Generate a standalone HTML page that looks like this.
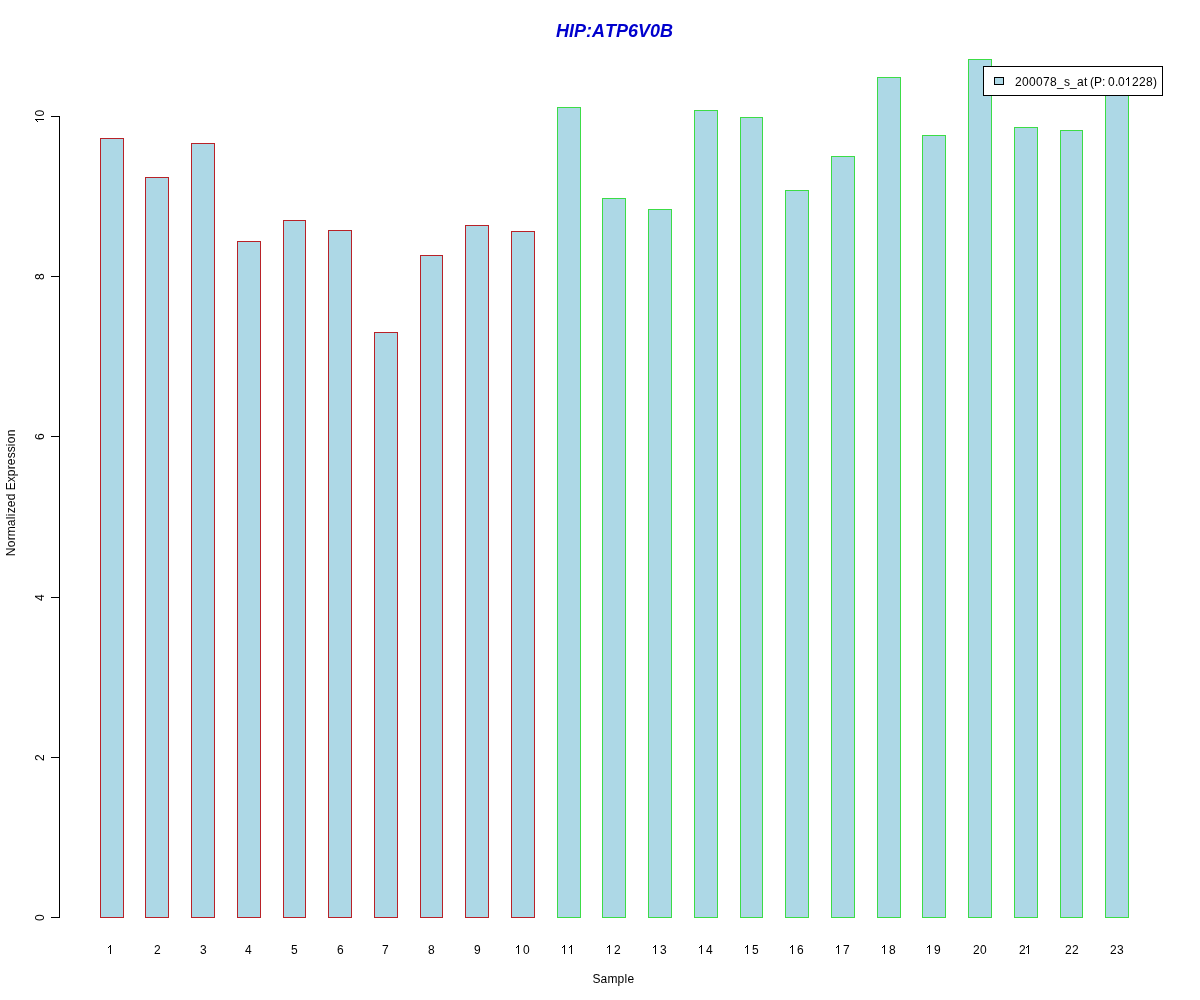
<!DOCTYPE html>
<html><head><meta charset="utf-8"><title>HIP:ATP6V0B</title>
<style>
html,body{margin:0;padding:0;background:#fff;width:1200px;height:1000px;overflow:hidden}
svg{display:block;will-change:transform}
text{font-family:"Liberation Sans",sans-serif;font-size:12px;fill:#000;font-kerning:none}
text.t{font-weight:bold;font-style:italic;font-size:18px;fill:#0000cd}
tspan.h{fill:transparent}
rect,path{shape-rendering:crispEdges}
</style></head><body>
<svg width="1200" height="1000" viewBox="0 0 1200 1000">
<rect x="0" y="0" width="1200" height="1000" fill="#fff"/>
<rect x="100.5" y="138.5" width="23" height="779" fill="#add8e6" stroke="#b82228"/>
<rect x="145.5" y="177.5" width="23" height="740" fill="#add8e6" stroke="#b82228"/>
<rect x="191.5" y="143.5" width="23" height="774" fill="#add8e6" stroke="#b82228"/>
<rect x="237.5" y="241.5" width="23" height="676" fill="#add8e6" stroke="#b82228"/>
<rect x="283.5" y="220.5" width="22" height="697" fill="#add8e6" stroke="#b82228"/>
<rect x="328.5" y="230.5" width="23" height="687" fill="#add8e6" stroke="#b82228"/>
<rect x="374.5" y="332.5" width="23" height="585" fill="#add8e6" stroke="#b82228"/>
<rect x="420.5" y="255.5" width="22" height="662" fill="#add8e6" stroke="#b82228"/>
<rect x="465.5" y="225.5" width="23" height="692" fill="#add8e6" stroke="#b82228"/>
<rect x="511.5" y="231.5" width="23" height="686" fill="#add8e6" stroke="#b82228"/>
<rect x="557.5" y="107.5" width="23" height="810" fill="#add8e6" stroke="#3cdc46"/>
<rect x="602.5" y="198.5" width="23" height="719" fill="#add8e6" stroke="#3cdc46"/>
<rect x="648.5" y="209.5" width="23" height="708" fill="#add8e6" stroke="#3cdc46"/>
<rect x="694.5" y="110.5" width="23" height="807" fill="#add8e6" stroke="#3cdc46"/>
<rect x="740.5" y="117.5" width="22" height="800" fill="#add8e6" stroke="#3cdc46"/>
<rect x="785.5" y="190.5" width="23" height="727" fill="#add8e6" stroke="#3cdc46"/>
<rect x="831.5" y="156.5" width="23" height="761" fill="#add8e6" stroke="#3cdc46"/>
<rect x="877.5" y="77.5" width="23" height="840" fill="#add8e6" stroke="#3cdc46"/>
<rect x="922.5" y="135.5" width="23" height="782" fill="#add8e6" stroke="#3cdc46"/>
<rect x="968.5" y="59.5" width="23" height="858" fill="#add8e6" stroke="#3cdc46"/>
<rect x="1014.5" y="127.5" width="23" height="790" fill="#add8e6" stroke="#3cdc46"/>
<rect x="1060.5" y="130.5" width="22" height="787" fill="#add8e6" stroke="#3cdc46"/>
<rect x="1105.5" y="90.5" width="23" height="827" fill="#add8e6" stroke="#3cdc46"/>
<path d="M59.5 116V918" stroke="#000" fill="none"/>
<path d="M51 917.5H60" stroke="#000" fill="none"/>
<text transform="translate(44,917.5) rotate(-90)" x="-3.50" y="0" >0</text>
<path d="M51 757.5H60" stroke="#000" fill="none"/>
<text transform="translate(44,757.5) rotate(-90)" x="-3.50" y="0" >2</text>
<path d="M51 597.5H60" stroke="#000" fill="none"/>
<text transform="translate(44,597.5) rotate(-90)" x="-3.50" y="0" >4</text>
<path d="M51 436.5H60" stroke="#000" fill="none"/>
<text transform="translate(44,436.5) rotate(-90)" x="-3.50" y="0" >6</text>
<path d="M51 276.5H60" stroke="#000" fill="none"/>
<text transform="translate(44,276.5) rotate(-90)" x="-3.50" y="0" >8</text>
<path d="M51 116.5H60" stroke="#000" fill="none"/>
<text transform="translate(44,116.5) rotate(-90)" x="-7.00 0.00" y="0" ><tspan class="h">1</tspan>0</text>
<text x="108.00" y="954" ><tspan class="h">1</tspan></text>
<text x="154.00" y="954" >2</text>
<text x="200.00" y="954" >3</text>
<text x="245.00" y="954" >4</text>
<text x="291.00" y="954" >5</text>
<text x="337.00" y="954" >6</text>
<text x="382.00" y="954" >7</text>
<text x="428.00" y="954" >8</text>
<text x="474.00" y="954" >9</text>
<text x="516.00 523.00" y="954" ><tspan class="h">1</tspan>0</text>
<text x="562.00 569.00" y="954" ><tspan class="h">1</tspan><tspan class="h">1</tspan></text>
<text x="607.00 614.00" y="954" ><tspan class="h">1</tspan>2</text>
<text x="653.00 660.00" y="954" ><tspan class="h">1</tspan>3</text>
<text x="699.00 706.00" y="954" ><tspan class="h">1</tspan>4</text>
<text x="745.00 752.00" y="954" ><tspan class="h">1</tspan>5</text>
<text x="790.00 797.00" y="954" ><tspan class="h">1</tspan>6</text>
<text x="836.00 843.00" y="954" ><tspan class="h">1</tspan>7</text>
<text x="882.00 889.00" y="954" ><tspan class="h">1</tspan>8</text>
<text x="927.00 934.00" y="954" ><tspan class="h">1</tspan>9</text>
<text x="973.00 980.00" y="954" >20</text>
<text x="1019.00 1026.00" y="954" >2<tspan class="h">1</tspan></text>
<text x="1065.00 1072.00" y="954" >22</text>
<text x="1110.00 1117.00" y="954" >23</text>
<text x="592.50 600.50 607.50 617.50 624.50 627.50" y="983" >Sample</text>
<text transform="translate(15,492.8) rotate(-90)" x="-63.50 -54.50 -47.50 -43.50 -33.50 -26.50 -23.50 -20.50 -14.50 -7.50 -0.50 2.50 10.50 16.50 23.50 27.50 34.50 40.50 46.50 49.50 56.50" y="0" >Normalized Expression</text>
<text x="555.90 568.90 573.90 585.90 591.90 604.90 615.90 627.90 637.90 649.90 659.90" y="37" class="t">HIP:ATP6V0B</text>
<rect x="983.5" y="66.5" width="179" height="29" fill="#fff" stroke="#000"/>
<rect x="994.5" y="77.5" width="9" height="7" fill="#add8e6" stroke="#000"/>
<text x="1015.00 1022.00 1029.00 1036.00 1043.00 1050.00 1057.00 1064.00 1070.00 1077.00 1084.00 1087.00 1090.00 1094.00 1102.00 1105.00 1108.00 1115.00 1118.00 1125.00 1132.00 1139.00 1146.00 1153.00" y="86" >200078_s_at (P: 0.0<tspan class="h">1</tspan>228)</text>
<path d="M35 119h9v1h-9zM36 120h1v1h-1zM37 121h1v1h-1zM110 945h1v9h-1zM109 946h1v1h-1zM108 947h1v1h-1zM518 945h1v9h-1zM517 946h1v1h-1zM516 947h1v1h-1zM564 945h1v9h-1zM563 946h1v1h-1zM562 947h1v1h-1zM571 945h1v9h-1zM570 946h1v1h-1zM569 947h1v1h-1zM609 945h1v9h-1zM608 946h1v1h-1zM607 947h1v1h-1zM655 945h1v9h-1zM654 946h1v1h-1zM653 947h1v1h-1zM701 945h1v9h-1zM700 946h1v1h-1zM699 947h1v1h-1zM747 945h1v9h-1zM746 946h1v1h-1zM745 947h1v1h-1zM792 945h1v9h-1zM791 946h1v1h-1zM790 947h1v1h-1zM838 945h1v9h-1zM837 946h1v1h-1zM836 947h1v1h-1zM884 945h1v9h-1zM883 946h1v1h-1zM882 947h1v1h-1zM929 945h1v9h-1zM928 946h1v1h-1zM927 947h1v1h-1zM1028 945h1v9h-1zM1027 946h1v1h-1zM1026 947h1v1h-1zM1128 77h1v9h-1zM1127 78h1v1h-1zM1126 79h1v1h-1z" fill="#000"/>
</svg>
</body></html>
